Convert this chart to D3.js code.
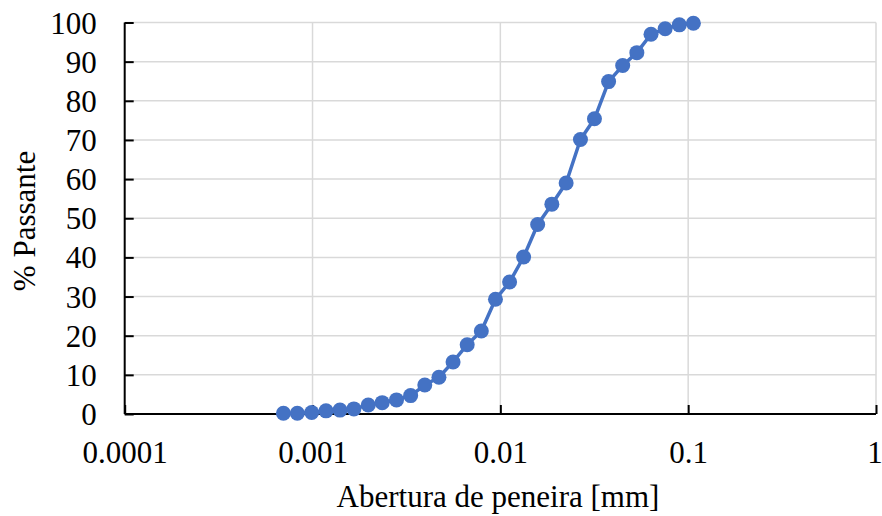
<!DOCTYPE html>
<html>
<head>
<meta charset="utf-8">
<script src="https://cdn.jsdelivr.net/npm/d3@7"></script>
<style>
  html, body { margin: 0; padding: 0; background: #fff; }
  svg { display: block; }
  text { font-family: "Liberation Serif", "Times New Roman", serif; fill: #000; }
</style>
</head>
<body>
<svg id="chart" width="882" height="516"></svg>
<script>
// Data
const aberturas = [0.00070, 0.00083, 0.00099, 0.00118, 0.00140, 0.00166, 0.00198, 0.00235,
  0.00280, 0.00333, 0.00396, 0.00471, 0.00560, 0.00666, 0.00792, 0.00942, 0.0112, 0.0133,
  0.0158, 0.0188, 0.0224, 0.0267, 0.0317, 0.0377, 0.0448, 0.0533, 0.0634, 0.0754, 0.0897, 0.1066];
const passante = [0.2, 0.2, 0.4, 0.8, 1.0, 1.3, 2.3, 2.9, 3.6, 4.7, 7.4, 9.4, 13.3, 17.7,
  21.2, 29.3, 33.7, 40.1, 48.4, 53.6, 59.0, 70.1, 75.4, 84.9, 89.0, 92.3, 97.0, 98.4, 99.4, 99.8];
const xTicks = [0.0001, 0.001, 0.01, 0.1, 1];
const xTickLabels = ["0.0001", "0.001", "0.01", "0.1", "1"];
const yTicks = [0, 10, 20, 30, 40, 50, 60, 70, 80, 90, 100];
const xTitle = "Abertura de peneira [mm]";
const yTitle = "% Passante";

(function () {
const svg = d3.select("#chart");
const pL = 124.7, pR = 876, pT = 22.5, pB = 414;
const FONT = "'Liberation Serif', 'Times New Roman', serif";
const FS = "31px";

const x = d3.scaleLog().domain([0.0001, 1]).range([pL, pR]);
const y = d3.scaleLinear().domain([0, 100]).range([pB, pT]);

// gridlines
svg.append("g").selectAll("line").data(yTicks.filter(d => d > 0)).join("line")
  .attr("x1", pL).attr("x2", pR)
  .attr("y1", d => y(d)).attr("y2", d => y(d))
  .attr("stroke", "#d9d9d9").attr("stroke-width", 1.5);
svg.append("g").selectAll("line").data(xTicks.slice(1)).join("line")
  .attr("x1", d => x(d)).attr("x2", d => x(d))
  .attr("y1", pT).attr("y2", pB)
  .attr("stroke", "#d9d9d9").attr("stroke-width", 1.5);

// y axis (ticks inward)
const yAxis = svg.append("g").attr("transform", `translate(${pL},0)`)
  .call(d3.axisLeft(y).tickValues(yTicks).tickSize(-9).tickPadding(28));
yAxis.attr("font-family", FONT).attr("font-size", FS);
yAxis.select(".domain").attr("stroke", "#000").attr("stroke-width", 2)
  .attr("d", `M0,${pT}V${pB}`);
yAxis.selectAll(".tick line").attr("stroke", "#000").attr("stroke-width", 2);
yAxis.selectAll(".tick text").style("font-size", FS).style("font-family", FONT)
  .attr("fill", "#000").attr("dy", "0.34em");

// x axis (ticks inward)
const xAxis = svg.append("g").attr("transform", `translate(0,${pB})`)
  .call(d3.axisBottom(x).tickValues(xTicks).tickFormat((d, i) => xTickLabels[i]).tickSize(-9));
xAxis.attr("font-family", FONT).attr("font-size", FS);
xAxis.select(".domain").attr("stroke", "#000").attr("stroke-width", 2)
  .attr("d", `M${pL},0H${pR}`);
xAxis.selectAll(".tick line").attr("stroke", "#000").attr("stroke-width", 2);
xAxis.selectAll(".tick text").style("font-size", FS).style("font-family", FONT)
  .attr("fill", "#000").attr("y", 48.5).attr("dy", "0")
  .attr("dx", (d, i) => i === xTicks.length - 1 ? -1.5 : 0);

// series
const pts = aberturas.map((a, i) => [a, passante[i]]);
svg.append("path").datum(pts)
  .attr("fill", "none").attr("stroke", "#4472C4").attr("stroke-width", 3.5)
  .attr("stroke-linejoin", "round")
  .attr("d", d3.line().x(d => x(d[0])).y(d => y(d[1])));
svg.append("g").selectAll("circle").data(pts).join("circle")
  .attr("cx", d => x(d[0])).attr("cy", d => y(d[1])).attr("r", 7.5)
  .attr("fill", "#4472C4");

// titles
svg.append("text").attr("x", 498).attr("y", 506.5)
  .attr("text-anchor", "middle").style("font-size", FS).style("font-family", FONT).text(xTitle);
svg.append("text").attr("transform", `translate(35,221) rotate(-90)`)
  .attr("text-anchor", "middle").style("font-size", FS).style("font-family", FONT).text(yTitle);
})();
</script>
</body>
</html>
